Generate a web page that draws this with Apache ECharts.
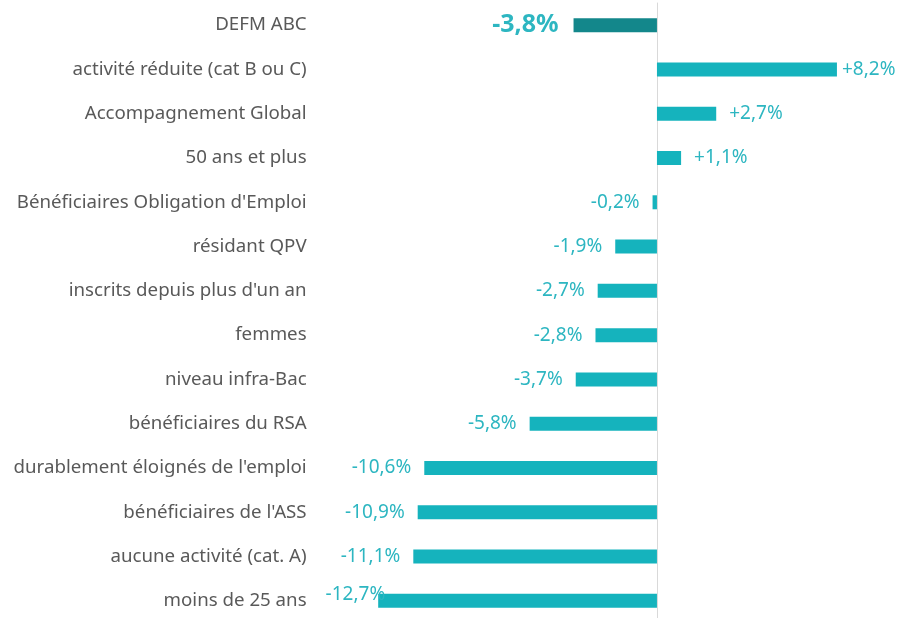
<!DOCTYPE html>
<html>
<head>
<meta charset="utf-8">
<script src="https://cdn.jsdelivr.net/npm/echarts@6/dist/echarts.min.js"></script>
<style>
  html, body { margin: 0; padding: 0; background: #fff; }
  #chart { width: 914px; height: 618px; }
</style>
</head>
<body>
<div id="chart"></div>
<script>
// catégories (de haut en bas) et évolutions en %
var categories = [
  'DEFM ABC',
  'activité réduite (cat B ou C)',
  'Accompagnement Global',
  '50 ans et plus',
  "Bénéficiaires Obligation d'Emploi",
  'résidant QPV',
  "inscrits depuis plus d'un an",
  'femmes',
  'niveau infra-Bac',
  'bénéficiaires du RSA',
  "durablement éloignés de l'emploi",
  "bénéficiaires de l'ASS",
  'aucune activité (cat. A)',
  'moins de 25 ans'
];
var values = [-3.8, 8.2, 2.7, 1.1, -0.2, -1.9, -2.7, -2.8, -3.7, -5.8, -10.6, -10.9, -11.1, -12.7];

var chart = echarts.init(document.getElementById('chart'));

function fmt(v) {
  var s = Math.abs(v).toFixed(1).replace('.', ',');
  return (v > 0 ? '+' : '-') + s + '%';
}

var barData = values.map(function (v, i) {
  var item = {
    value: v,
    itemStyle: { color: i === 0 ? '#13878b' : '#15b3bd' },
    label: {
      show: true,
      position: v >= 0 ? 'right' : 'left',
      distance: 13,
      formatter: fmt(v),
      color: '#2db6c1',
      fontSize: 19
    }
  };
  if (i === 0) {
    item.label.fontSize = 25;
    item.label.fontWeight = 'bold';
    item.label.distance = 15;
  }
  if (v === 8.2) item.label.distance = 5;
  if (i === values.length - 1) {
    item.label.distance = -7;
    item.label.offset = [0, -6];
  }
  return item;
});

chart.setOption({
  animation: false,
  textStyle: { fontFamily: 'Noto Sans' },
  grid: { left: 371.6, width: 526.8, top: 3, height: 620, outerBoundsMode: 'none', containLabel: false },
  xAxis: {
    type: 'value',
    min: -13,
    max: 11,
    show: false
  },
  yAxis: {
    type: 'category',
    inverse: true,
    data: categories,
    axisLine: { show: true, onZero: true, lineStyle: { color: '#d9d9d9', width: 1 } },
    axisTick: { show: false },
    axisLabel: {
      margin: 65,
      color: '#595959',
      fontSize: 18.7,
      fontFamily: 'Noto Sans'
    }
  },
  series: [{
    type: 'bar',
    barWidth: 14,
    data: barData
  }]
});
</script>
</body>
</html>
